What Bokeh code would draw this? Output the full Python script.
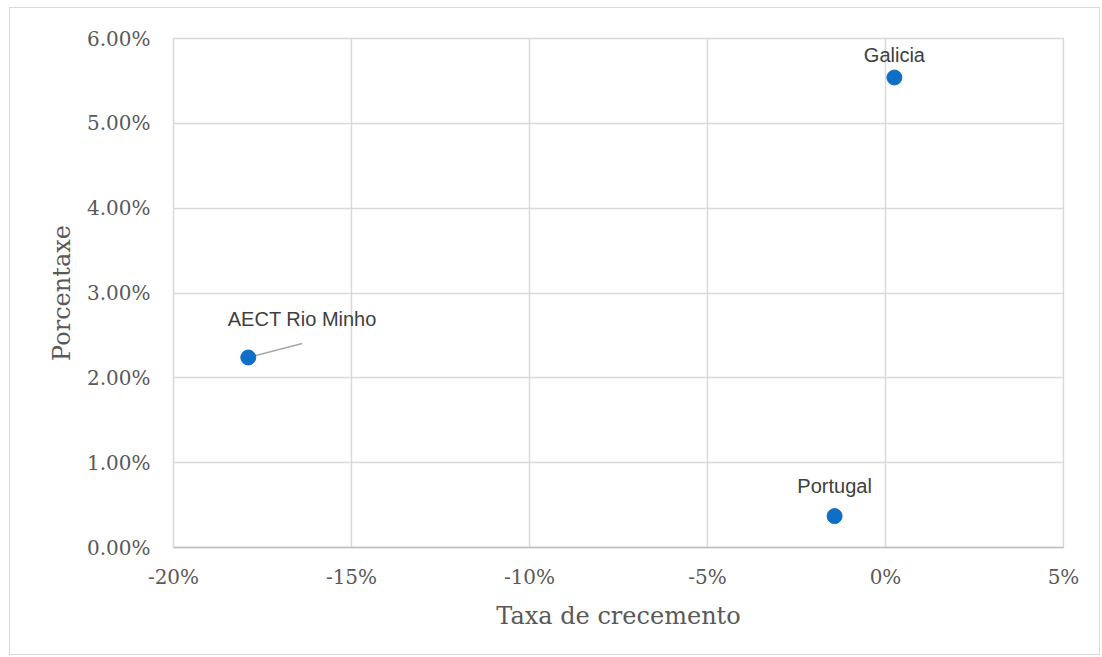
from bokeh.plotting import figure
from bokeh.models import ColumnDataSource, FixedTicker, NumeralTickFormatter, LabelSet
from bokeh.core.properties import value
from bokeh.embed import file_html
from bokeh.resources import INLINE

# Data
names = ["Galicia", "Portugal", "AECT Rio Minho"]
growth = [0.0025, -0.0143, -0.179]      # Taxa de crecemento
share = [0.0554, 0.0037, 0.0224]        # Porcentaxe

x_ticks = [-0.20, -0.15, -0.10, -0.05, 0.0, 0.05]
y_ticks = [0.0, 0.01, 0.02, 0.03, 0.04, 0.05, 0.06]

# label placement (pixels relative to point)
label_dx = [0, 0, 54]
label_dy = [16, 23, 31]
leader = [False, False, True]

W, H = 1091, 648
ML, MR, MT, MB = 163, 38, 30, 109
XR = (-0.20, 0.05)
YR = (0.0, 0.06)

p = figure(width=W, height=H, x_range=XR, y_range=YR,
           output_backend="svg", toolbar_location=None,
           min_border_left=ML, min_border_right=MR,
           min_border_top=MT, min_border_bottom=MB)
p.styles = {"border": "1px solid #d9d9d9"}
p.margin = (7, 0, 0, 9)
p.background_fill_color = "white"
p.border_fill_color = "white"
p.outline_line_color = "#d9d9d9"
p.outline_line_width = 1.5

for g in (p.xgrid, p.ygrid):
    g.grid_line_color = "#d9d9d9"
    g.grid_line_width = 1.5
p.xgrid.ticker = FixedTicker(ticks=x_ticks)
p.ygrid.ticker = FixedTicker(ticks=y_ticks)

xa = p.xaxis[0]
ya = p.yaxis[0]
xa.ticker = FixedTicker(ticks=x_ticks)
ya.ticker = FixedTicker(ticks=y_ticks)
xa.formatter = NumeralTickFormatter(format="0%")
ya.formatter = NumeralTickFormatter(format="0.00%")
for ax in (xa, ya):
    ax.major_tick_line_color = None
    ax.minor_tick_line_color = None
    ax.major_label_text_font = "DejaVu Serif"
    ax.major_label_text_font_size = "20px"
    ax.major_label_text_color = "#595959"
    ax.axis_label_text_font = "DejaVu Serif"
    ax.axis_label_text_font_size = "24px"
    ax.axis_label_text_font_style = "normal"
    ax.axis_label_text_color = "#595959"
xa.axis_line_color = "#bfbfbf"
xa.axis_line_width = 1.5
ya.axis_line_color = None
xa.axis_label = "Taxa de crecemento"
ya.axis_label = "Porcentaxe"
xa.major_label_standoff = 11
ya.major_label_standoff = 17
xa.axis_label_standoff = 10
ya.axis_label_standoff = 8

fw = W - ML - MR
fh = H - MT - MB
sx = (XR[1] - XR[0]) / fw
sy = (YR[1] - YR[0]) / fh

# leader lines
lx0, ly0, lx1, ly1 = [], [], [], []
for i in range(len(names)):
    if leader[i]:
        lx0.append(growth[i]); ly0.append(share[i])
        lx1.append(growth[i] + label_dx[i] * sx)
        ly1.append(share[i] + (label_dy[i] - 17) * sy)
p.segment(lx0, ly0, lx1, ly1, line_color="#a6a6a6", line_width=1.5)

src = ColumnDataSource(dict(x=growth, y=share, name=names, dx=label_dx, dy=label_dy))
p.scatter("x", "y", source=src, size=15, fill_color="#0F6FC6", line_color="#0F6FC6")

labels = LabelSet(x="x", y="y", text="name", source=src, x_offset="dx", y_offset="dy",
                  text_align="center", text_baseline="alphabetic",
                  text_font=value("Liberation Sans"), text_font_size=value("20px"),
                  text_color=value("#404040"))
p.add_layout(labels)

open("out.html", "w").write(file_html(p, INLINE))
